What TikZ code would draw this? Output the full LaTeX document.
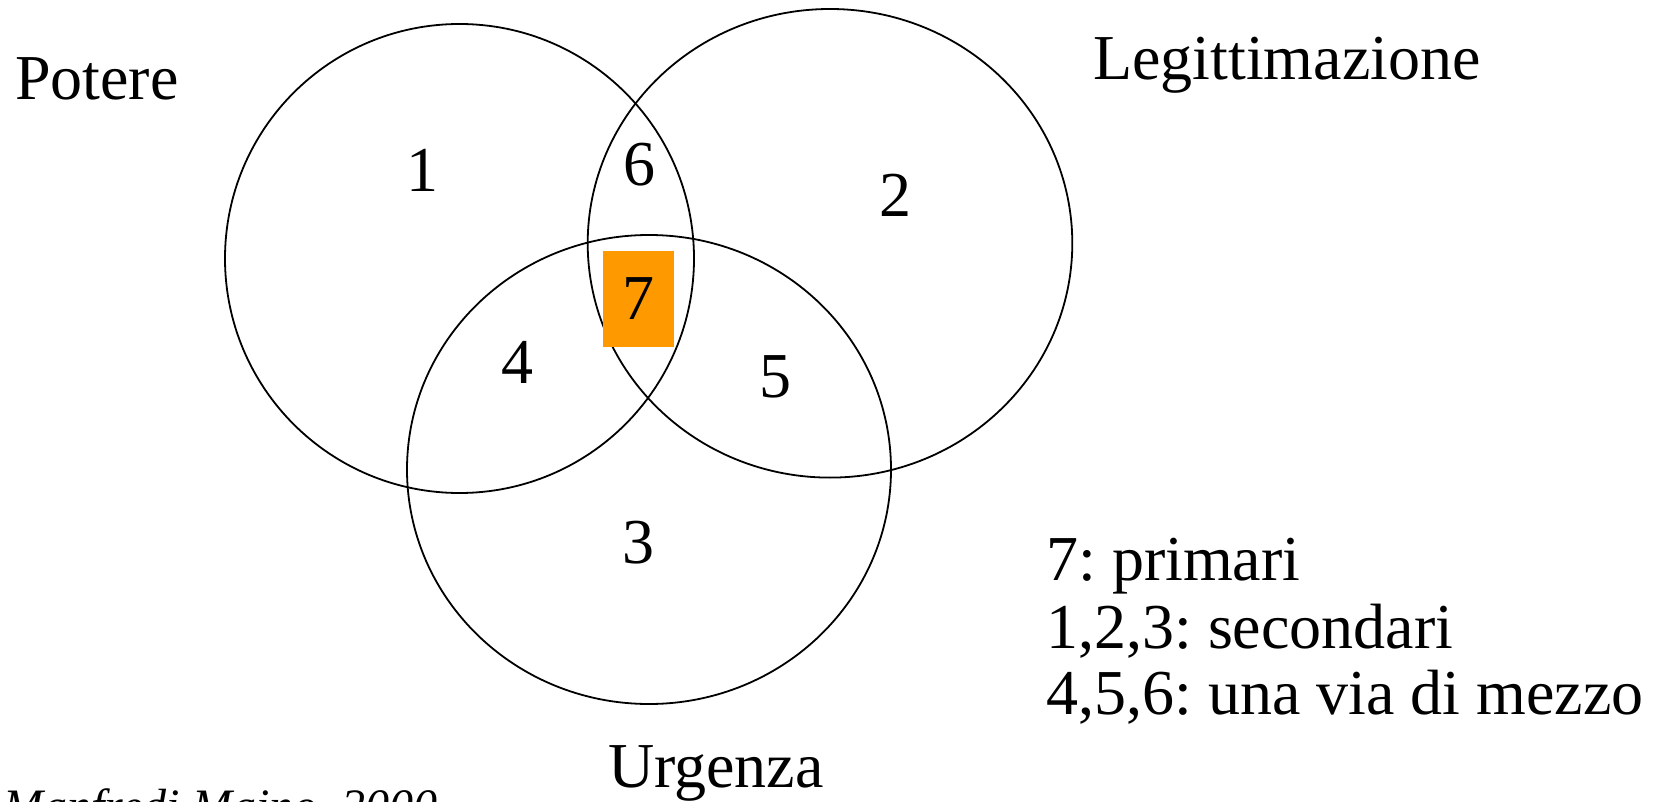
\documentclass[tikz,border=0pt]{standalone}
\usepackage{fontspec}
\setmainfont{Liberation Serif}
\definecolor{corefill}{HTML}{FF9900}
\frenchspacing

\begin{document}
\begin{tikzpicture}[x=1pt, y=-1pt,
  set/.style={line width=1.8pt},
  num/.style={font=\fontsize{64}{76}\selectfont, inner sep=0pt},
  lbl/.style={font=\fontsize{64}{76}\selectfont, inner sep=0pt, anchor=base west},
  core/.style={num, fill=corefill, minimum width=71pt, minimum height=96pt}]

\useasboundingbox (0,0) rectangle (1658,802);
\clip (0,0) rectangle (1658,802);

% =================== the three sets ===============
\draw[set] (459.5,258.5) circle [radius=234.5];                 % Potere
\draw[set] (830,243.3) ellipse [x radius=242.3, y radius=234.3];  % Legittimazione
\draw[set] (649,469.5) ellipse [x radius=242, y radius=234.5];    % Urgenza

% =================== the regions ===============
\node[num] (r1) at (422,170) {1};
\node[num] (r2) at (895,195) {2};
\node[num] (r3) at (638,543) {3};
\node[num] (r4) at (517,362) {4};
\node[num] (r5) at (775,377) {5};
\node[num] (r6) at (639,165) {6};
\node[core] (r7) at (638.5,299) {7};

% =================== names of the sets ===============
\node[lbl] (potere) at (15,100) {Potere};
\node[lbl] (legit) at (1093,80) {Legittimazione};
\node[lbl] (urg) at (608,787) {Urgenza};

% =================== key ===============
\node[lbl] (key1) at (1046,580) {7: primari};
\node[lbl] (key2) at (1046,648) {1,2,3: secondari};
\node[lbl] (key3) at (1046,714) {4,5,6: una via di mezzo};

\node[lbl, font=\fontsize{48}{58}\selectfont\itshape] (src) at (3,822)
      {Manfredi Maino, 2000};
\end{tikzpicture}
\end{document}
